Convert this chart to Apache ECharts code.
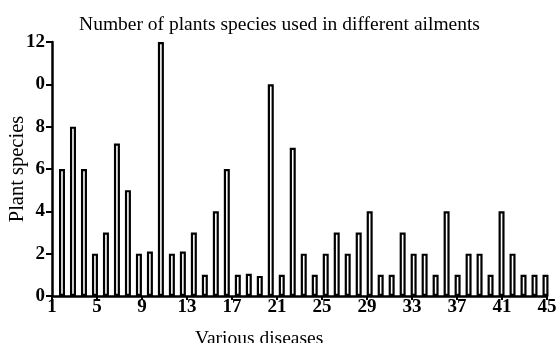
<!DOCTYPE html>
<html>
<head>
<meta charset="utf-8">
<script src="https://cdn.jsdelivr.net/npm/echarts@6/dist/echarts.min.js"></script>
<style>html,body{margin:0;padding:0;background:#fff}#c{width:559px;height:343px}</style>
</head>
<body>
<div id="c"></div>
<script>
var categories = [];
for (var i = 1; i <= 45; i++) categories.push(String(i));
var values = [6, 8, 6, 2, 3, 7.2, 5, 2, 2.1, 12, 2, 2.1, 3, 1, 4, 6, 1, 1.05, 0.95, 10, 1, 7, 2, 1, 2, 3, 2, 3, 4, 1, 1, 3, 2, 2, 1, 4, 1, 2, 2, 1, 4, 2, 1, 1, 1];
var yTickLabels = ["0", "2", "4", "6", "8", "0", "12"];
var xTickValues = [1, 5, 9, 13, 17, 21, 25, 29, 33, 37, 41, 45];

var serif = "'Liberation Serif', 'DejaVu Serif', serif";
var chart = echarts.init(document.getElementById('c'));
chart.setOption({
  animation: false,
  backgroundColor: '#fff',
  title: [
    { text: 'Number of plants species used in different ailments', left: 'center', top: 10,
      textStyle: { fontFamily: serif, fontSize: 19.5, fontWeight: 'normal', color: '#000' } },
    { text: 'Various diseases', left: 190, top: 324,
      textStyle: { fontFamily: serif, fontSize: 19.5, fontWeight: 'normal', color: '#000' } }
  ],
  grid: [
    { left: 56.5, right: 8, top: 42, bottom: 47, containLabel: false, outerBoundsMode: 'none' },
    { left: 52, right: 12, top: 42, bottom: 47, containLabel: false, outerBoundsMode: 'none' }
  ],
  xAxis: [
    { type: 'category', gridIndex: 0, data: categories, boundaryGap: true,
      axisLine: { show: false }, axisTick: { show: false }, axisLabel: { show: false }, splitLine: { show: false } },
    { type: 'value', gridIndex: 1, min: 1, max: 45, interval: 4,
      axisLine: { show: true, lineStyle: { color: '#000', width: 2.5 } },
      axisTick: { show: true, length: 4, lineStyle: { color: '#000', width: 2 } },
      axisLabel: { color: '#000', fontFamily: serif, fontSize: 19, fontWeight: 'bold', margin: 2,
        formatter: function (v) { return xTickValues.indexOf(v) >= 0 ? String(v) : ''; } },
      splitLine: { show: false } }
  ],
  yAxis: [
    { type: 'value', gridIndex: 0, min: 0, max: 12, interval: 2, show: false, splitLine: { show: false } },
    { type: 'value', gridIndex: 1, min: 0, max: 12, interval: 2,
      name: 'Plant species', nameLocation: 'middle', nameGap: 24, nameRotate: 90, nameMoveOverlap: false,
      nameTextStyle: { fontFamily: serif, fontSize: 20.5, color: '#000' },
      axisLine: { show: true, lineStyle: { color: '#000', width: 2.5 } },
      axisTick: { show: true, length: 6, lineStyle: { color: '#000', width: 2 } },
      axisLabel: { color: '#000', fontFamily: serif, fontSize: 19, fontWeight: 'bold', margin: 7,
        formatter: function (v) { return yTickLabels[Math.round(v / 2)]; } },
      splitLine: { show: false } }
  ],
  series: [
    { type: 'bar', xAxisIndex: 0, yAxisIndex: 0, data: values, barWidth: 6,
      itemStyle: { color: '#fff', borderColor: '#000', borderWidth: 2.2 } }
  ]
});
</script>
</body>
</html>
